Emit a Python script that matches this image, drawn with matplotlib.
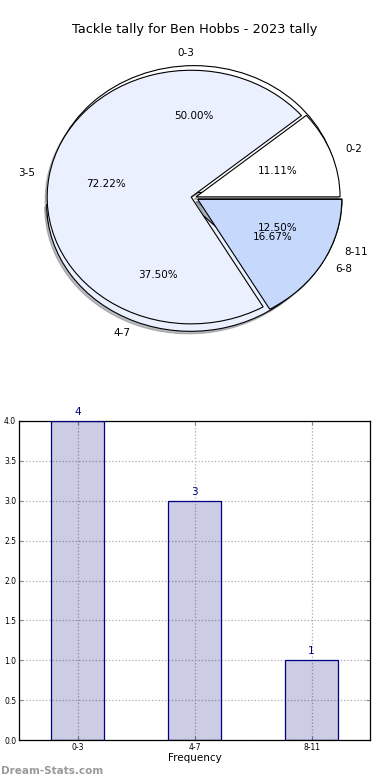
import numpy as np
import matplotlib
matplotlib.use("Agg")
import matplotlib.pyplot as plt

# datos de las dos tartas (se dibujan una sobre la otra)
rangos_a = ["0-3", "4-7", "8-11"]
cuenta_a = [4, 3, 1]
rangos_b = ["0-2", "3-5", "6-8"]
cuenta_b = [2, 13, 3]

# datos de las barras
barras = ["0-3", "4-7", "8-11"]
frecuencia = [4, 3, 1]

colores = ["white", "#eaf0fd", "#c6d9fd"]

fig = plt.figure(figsize=(3.9, 7.8), dpi=100)

ax1 = fig.add_axes([14 / 390, 1 - 356 / 780, 360 / 390, 317 / 780])
props = {"edgecolor": "black", "linewidth": 0.8}
sombra = {"ox": -0.01, "oy": -0.014, "shade": 0.5}
ax1.pie(cuenta_a, labels=rangos_a, colors=colores, explode=(0.04, 0.06, 0.03),
        autopct="%1.2f%%", shadow=sombra, wedgeprops=props,
        textprops={"fontsize": 7.5})
ax1.pie(cuenta_b, labels=rangos_b, colors=colores, explode=(0.015, 0.02, 0.03),
        autopct="%1.2f%%", shadow=sombra, wedgeprops=props,
        textprops={"fontsize": 7.5})
ax1.set_aspect("auto")
ax1.set_xlim(-1.25, 1.25)
ax1.set_ylim(-1.25, 1.25)
fig.text(0.5, 1 - 30 / 780, "Tackle tally for Ben Hobbs - 2023 tally",
         ha="center", va="center", fontsize=9.3)

ax2 = fig.add_axes([19 / 390, 40 / 780, 351 / 390, 319 / 780])
x = np.arange(len(barras))
ax2.bar(x, frecuencia, width=0.45, color="navy", alpha=0.2, zorder=2)
ax2.bar(x, frecuencia, width=0.45, facecolor="none", edgecolor="navy",
        linewidth=0.9, zorder=3)
for i, v in zip(x, frecuencia):
    ax2.text(i, v + 0.05, str(v), ha="center", va="bottom", color="navy",
             fontsize=7.5)
ax2.set_xlim(-0.5, 2.5)
ax2.set_ylim(0, 4)
ax2.set_xticks(x)
ax2.set_xticklabels(barras)
ax2.set_yticks(np.arange(0, 4.01, 0.5))
ax2.set_yticklabels(["%.1f" % t for t in np.arange(0, 4.01, 0.5)])
ax2.tick_params(labelsize=5.5, direction="in", top=True, right=True,
                length=3, pad=2, color="#888888")
ax2.grid(True, linestyle=":", color="#aaaaaa", linewidth=0.9, zorder=0)
ax2.set_axisbelow(True)
ax2.set_xlabel("Frequency", fontsize=7.5, labelpad=1)
for s in ax2.spines.values():
    s.set_linewidth(0.9)

fig.text(0.002, 1 - 771 / 780, "Dream-Stats.com", ha="left", va="center",
         fontsize=7.5, fontweight="bold", color="#999999")

plt.savefig("out.png", dpi=100)
